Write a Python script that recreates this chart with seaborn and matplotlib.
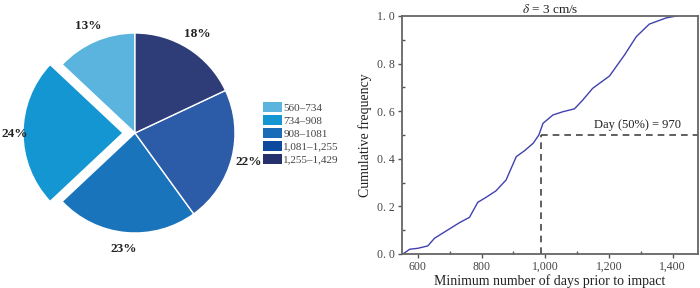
import numpy as np
import pandas as pd
import matplotlib
matplotlib.use("Agg")
import matplotlib.pyplot as plt
import seaborn as sns
from matplotlib.patches import Patch
from matplotlib.ticker import MultipleLocator, FixedLocator

# ---- data ----
range_labels = ["560\u2013734", "734\u2013908", "908\u20131081", "1,081\u20131,255", "1,255\u20131,429"]
range_pcts = [13, 24, 23, 22, 18]
range_colors = ["#5ab4de", "#1396d2", "#1a74bb", "#2c5ba8", "#2e3d78"]
legend_colors = ["#5ab4de", "#1396d2", "#1a6cb8", "#0d4a9e", "#26306c"]

days = [553, 574, 600, 631, 652, 689, 731, 762, 788, 814, 845, 877, 909, 935,
        962, 980, 993, 1024, 1056, 1092, 1118, 1149, 1202, 1249, 1286, 1327, 1380, 1412]
cum_freq = [0.0, 0.02, 0.024, 0.034, 0.066, 0.097, 0.132, 0.154, 0.217, 0.238,
            0.265, 0.311, 0.409, 0.434, 0.465, 0.50, 0.549, 0.584, 0.598, 0.61,
            0.647, 0.696, 0.748, 0.836, 0.913, 0.966, 0.992, 1.0]
median_day = 988
median_label = "Day (50%) = 970"
x_ticks = [600, 800, 1000, 1200, 1400]
x_tick_labels = ["600", "800", "1,000", "1,200", "1,400"]
y_ticks = [0.0, 0.2, 0.4, 0.6, 0.8, 1.0]
y_tick_labels = ["0. 0", "0. 2", "0. 4", "0. 6", "0. 8", "1. 0"]

sns.set_theme(style="white")
plt.rcParams['font.family'] = ['Liberation Serif', 'DejaVu Serif']
plt.rcParams['mathtext.fontset'] = 'stix'

W, H = 700, 288
fig = plt.figure(figsize=(W / 100, H / 100), dpi=100)

# ---- pie ----
cx, cy, half = 135, 133, 130
axp = fig.add_axes([(cx - half) / W, (H - cy - half) / H, 2 * half / W, 2 * half / H])
explode = [0, 0.12, 0, 0, 0]
wedges, texts = axp.pie(range_pcts, colors=range_colors, startangle=90, counterclock=True,
                        explode=explode, wedgeprops=dict(edgecolor="white", linewidth=1),
                        labels=[f"{p}%" for p in range_pcts], labeldistance=1.17,
                        textprops=dict(fontsize=9.5, fontweight="bold", color="#222222"))
axp.set_xlim(-1.3, 1.3)
axp.set_ylim(-1.3, 1.3)
axp.set_aspect("equal")
axp.axis("off")
for t in texts:
    t.set_ha("center")
    t.set_va("center")
    t.set_clip_on(False)
texts[1].set_position((-1.2, -0.01))

handles = [Patch(facecolor=c, edgecolor="none") for c in legend_colors]
fig.legend(handles, range_labels, loc="upper left", bbox_to_anchor=(263 / W, (H - 102) / H),
           frameon=False, fontsize=8, handlelength=1.7, handleheight=1.0,
           handletextpad=0.12, labelspacing=0.2, borderaxespad=0, borderpad=0,
           labelcolor="#444444")

# ---- CDF ----
ax = fig.add_axes([402 / W, (H - 254) / H, (698 - 402) / W, (254 - 16) / H])
df = pd.DataFrame({"days": days, "cf": cum_freq})
sns.lineplot(data=df, x="days", y="cf", ax=ax, color="#4040b0", linewidth=1.0)
ax.set_xlim(550, 1480)
ax.set_ylim(0, 1.0)
ax.plot([median_day, median_day], [0, 0.5], ls=(0, (4, 3)), color="#444444", lw=1.2)
ax.plot([median_day, 1480], [0.5, 0.5], ls=(0, (4, 3)), color="#444444", lw=1.2)
ax.text(1290, 0.515, median_label, ha="center", va="bottom", fontsize=9, color="#222222")

ax.xaxis.set_major_locator(FixedLocator(x_ticks))
ax.set_xticklabels(x_tick_labels)
ax.yaxis.set_major_locator(FixedLocator(y_ticks))
ax.set_yticklabels(y_tick_labels)
ax.xaxis.set_minor_locator(MultipleLocator(100))
ax.yaxis.set_minor_locator(MultipleLocator(0.1))
ax.tick_params(axis="both", which="major", direction="out", length=3, width=1,
               color="#555555", labelsize=8.5, labelcolor="#444444", pad=2,
               bottom=True, left=True)
ax.tick_params(axis="both", which="minor", direction="in", length=2.5, width=1,
               color="#555555", bottom=True, left=True)
for s in ax.spines.values():
    s.set_color("#666666")
    s.set_linewidth(1.3)
ax.set_xlabel("Minimum number of days prior to impact", fontsize=10, color="#222222", labelpad=1)
ax.set_ylabel("Cumulative frequency", fontsize=10, color="#222222", labelpad=4)
ax.set_title(r"$\delta$ = 3 cm/s", fontsize=9.5, color="#222222", pad=2)

fig.savefig("out.png", dpi=100)
